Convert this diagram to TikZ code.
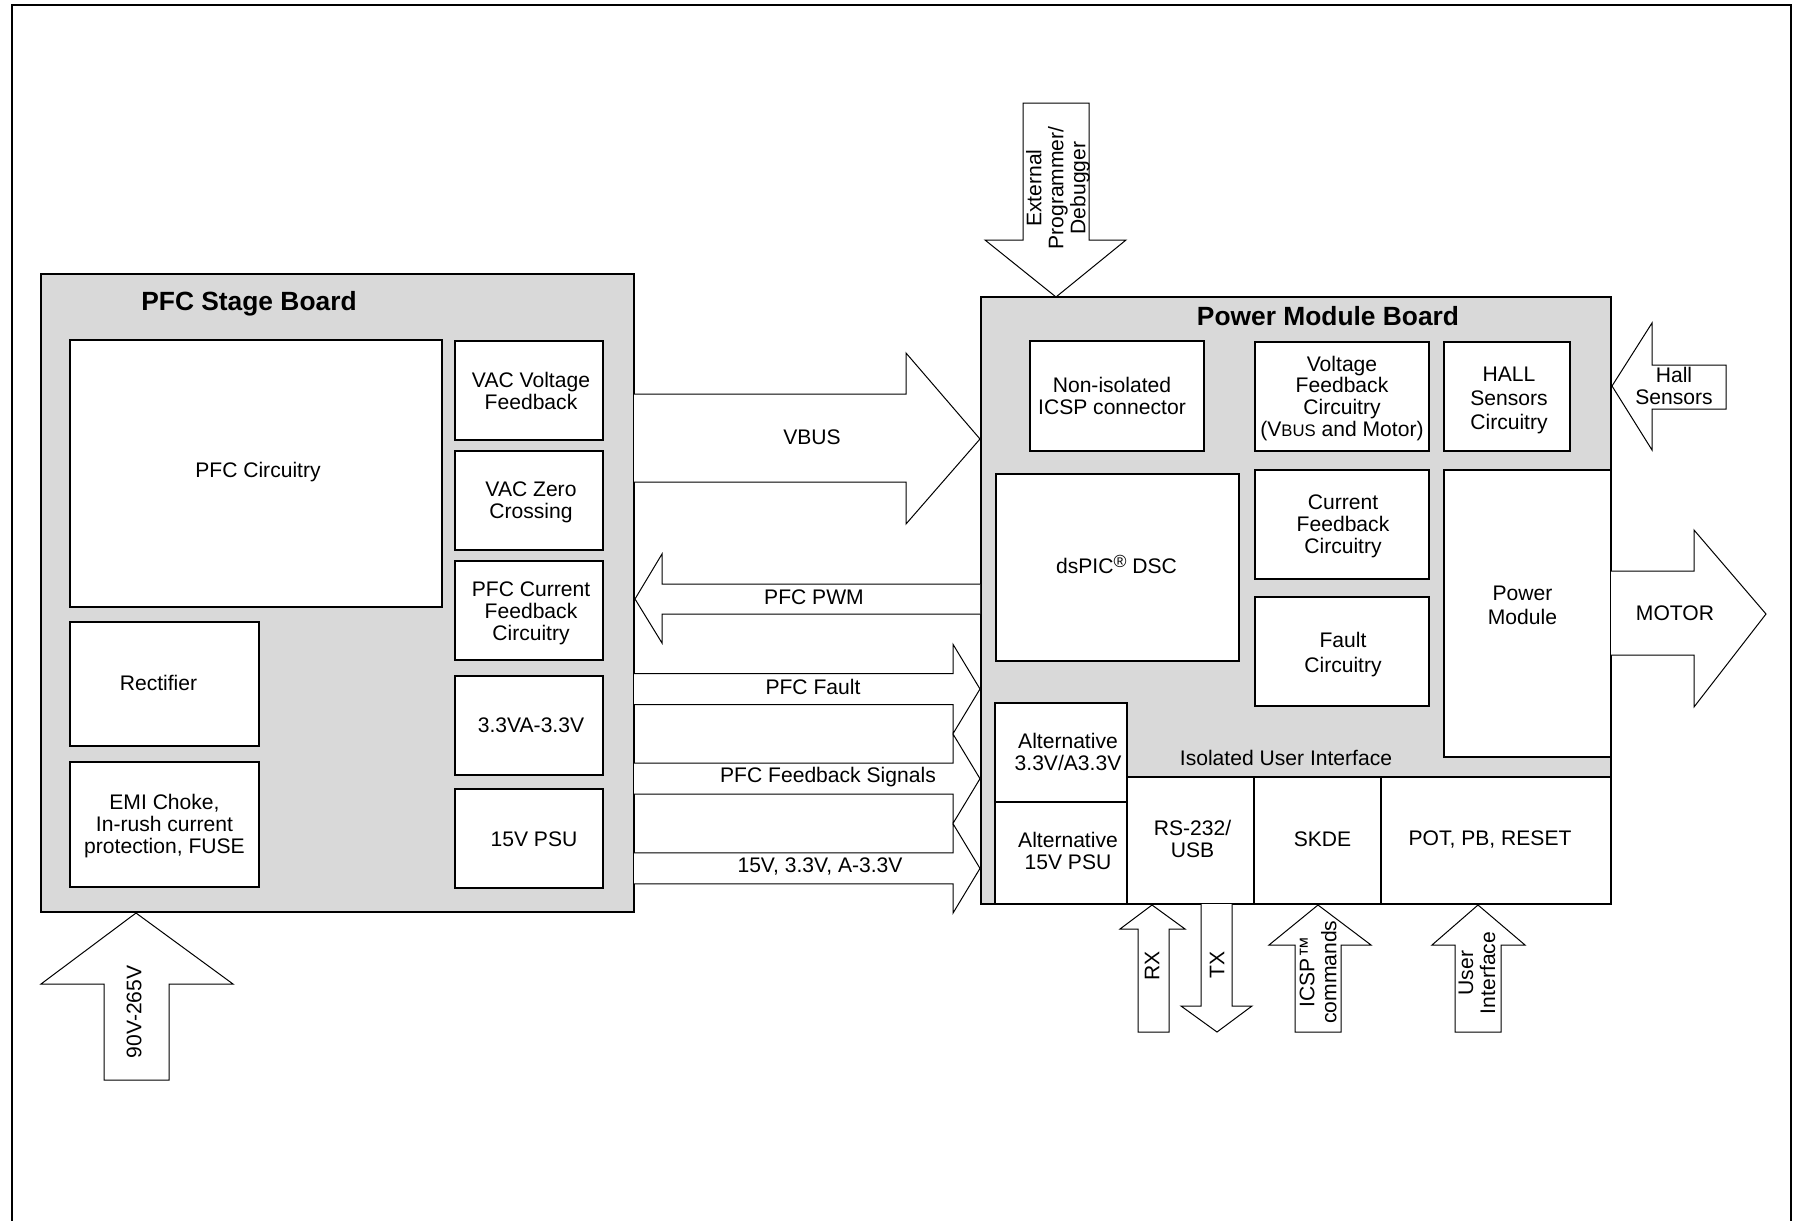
\documentclass[tikz,border=0pt]{standalone}
\usepackage{fontspec}
\setmainfont{Liberation Sans}
\definecolor{boardgray}{RGB}{217,217,217}
\usepackage{tikz}
\usetikzlibrary{fit,calc}

\begin{document}
\begin{tikzpicture}[x=0.2mm,y=-0.2mm,
      board/.style={draw=black,line width=0.3mm,fill=boardgray,inner sep=0pt},
      blk/.style={draw=black,line width=0.35mm,fill=white,inner sep=0pt},
      ttl/.style={font=\fontsize{15}{17}\selectfont\bfseries},
      lbl/.style={font=\fontsize{12}{12.5}\selectfont,align=center,inner sep=0pt},
      barrow/.style={draw=black,line width=0.2mm,fill=white,line join=miter}]

      \useasboundingbox (0,0) rectangle (1797,1221);
      \draw[line width=0.45mm] (11.7,1225) |- (1791,5) -- (1791,1225);

      % Boards
      \node[board,fit={(41,274) (634,912)}]  (pfc) {};
      \node[board,fit={(981,297) (1611,904)}] (pmb) {};
      \node[ttl] (pfctitle) at (249,304) {PFC Stage Board};
      \node[ttl] (pmbtitle) at (1328,316) {Power Module Board};

      % PFC stage blocks
      \node[blk,fit={(70,340) (442,607)}]  (pfccirc) {};
      \node[blk,fit={(70,622) (259,746)}]  (rect)    {};
      \node[blk,fit={(70,762) (259,887)}]  (emi)     {};
      \node[blk,fit={(455,341) (603,440)}] (vacv)    {};
      \node[blk,fit={(455,451) (603,550)}] (vacz)    {};
      \node[blk,fit={(455,561) (603,660)}] (pfccur)  {};
      \node[blk,fit={(455,676) (603,775)}] (psu33)   {};
      \node[blk,fit={(455,789) (603,888)}] (psu15)   {};
      \node[lbl] (pfccirct) at ($(pfccirc)+(2,-1)$) {PFC Circuitry};
      \node[lbl] (rectt)    at ($(rect)+(-6,-1)$)   {Rectifier};
      \node[lbl] (emit)     at ($(emi)+(0,2)$)      {EMI Choke,\\In-rush current\\protection, FUSE};
      \node[lbl] (vacvt)    at ($(vacv)+(2,0)$)     {VAC Voltage\\Feedback};
      \node[lbl] (vaczt)    at ($(vacz)+(2,2)$)     {VAC Zero\\Crossing};
      \node[lbl] (pfccurt)  at ($(pfccur)+(2,3)$)   {PFC Current\\Feedback\\Circuitry};
      \node[lbl] (psu33t)   at ($(psu33)+(2,0)$)    {3.3VA-3.3V};
      \node[lbl] (psu15t)   at ($(psu15)+(5,1)$)    {15V PSU};

      % Power module blocks
      \node[blk,fit={(1030,341) (1204,451)}] (icsp)   {};
      \node[blk,fit={(1255,342) (1429,451)}] (vfb)    {};
      \node[blk,fit={(1444,342) (1570,451)}] (hallc)  {};
      \node[blk,fit={(996,474) (1239,661)}]  (dspic)  {};
      \node[blk,fit={(1255,470) (1429,579)}] (curfb)  {};
      \node[blk,fit={(1255,597) (1429,706)}] (fault)  {};
      \node[blk,fit={(1444,470) (1611,757)}] (pwrmod) {};
      \node[blk,fit={(995,703) (1127,802)}]  (alt33)  {};
      \node[blk,fit={(995,802) (1127,904)}]  (alt15)  {};
      \node[blk,fit={(1127,777) (1254,904)}] (rs232)  {};
      \node[blk,fit={(1254,777) (1381,904)}] (skde)   {};
      \node[blk,fit={(1381,777) (1611,904)}] (pot)    {};
      \node[lbl] (icspt)   at ($(icsp)+(-5,0)$)   {Non-isolated\\ICSP connector};
      \node[lbl] (vfbt)    at ($(vfb)+(0,2)$)     {Voltage\\Feedback\\Circuitry\\(V{\fontsize{9.5}{10}\selectfont BUS} and Motor)};
      \node[lbl] (hallct)  at ($(hallc)+(2,4)$)   {HALL\\[1pt]Sensors\\[1pt]Circuitry};
      \node[lbl] (dspict)  at ($(dspic)+(-1,-3)$) {dsPIC\raisebox{3.6pt}{\fontsize{10}{10}\selectfont ®} DSC};
      \node[lbl] (curfbt)  at ($(curfb)+(1,2)$)   {Current\\Feedback\\Circuitry};
      \node[lbl] (faultt)  at ($(fault)+(1,3)$)   {Fault\\[1.3pt]Circuitry};
      \node[lbl] (pwrmodt) at ($(pwrmod)+(-5,-8)$) {Power\\[1.3pt]Module};
      \node[lbl] (alt33t)  at ($(alt33)+(7,-1)$)  {Alternative\\3.3V/A3.3V};
      \node[lbl] (alt15t)  at ($(alt15)+(7,-2)$)  {Alternative\\15V PSU};
      \node[lbl] (rs232t)  at ($(rs232)+(2,-2)$)  {RS-232/\\USB};
      \node[lbl] (skdet)   at ($(skde)+(5,-1)$)   {SKDE};
      \node[lbl] (pott)    at ($(pot)+(-6,-1)$)   {POT, PB, RESET};
      \node[lbl] (isolui) at (1286,758) {Isolated User Interface};

      % Arrows between the boards
      \draw[barrow] (634,394) -- (906,394) -- (906,353) -- (980,439) -- (906,524) -- (906,482) -- (634,482);
      \node[lbl] (vbus) at (812,437) {VBUS};
      \draw[barrow] (980,584) -- (662,584) -- (662,554) -- (635,599) -- (662,643) -- (662,614) -- (980,614);
      \node[lbl] (pwm) at (814,597) {PFC PWM};
      \foreach \y/\lx/\lab [count=\i] in {689/813/PFC Fault, 778.7/828/PFC Feedback Signals,
                                          868.4/820/{15V, 3.3V, A-3.3V}}{
        \draw[barrow] (634,\y-15.5) -- (953,\y-15.5) -- (953,\y-44.7) -- (980,\y)
                      -- (953,\y+44.7) -- (953,\y+15.5) -- (634,\y+15.5);
        \node[lbl] (sig\i) at (\lx,\y-2) {\lab};
      }

      % Outside connections
      \draw[barrow] (1023,103) -- (1089,103) -- (1089,240) -- (1126,240) -- (1056,297) -- (985,240) -- (1023,240) -- cycle;
      \node[lbl,rotate=90] (extprog) at (1058,188) {External\\Programmer/\\Debugger};
      \draw[barrow] (1726,365) -- (1652,365) -- (1652,323) -- (1612,386) -- (1652,450) -- (1652,409) -- (1726,409) -- cycle;
      \node[lbl] (hall) at (1674,386) {Hall\\Sensors};
      \draw[barrow] (1611,571) -- (1694,571) -- (1694,530) -- (1766,614) -- (1694,707) -- (1694,655) -- (1611,655);
      \node[lbl] (motor) at (1675,613) {MOTOR};
      \draw[barrow] (104,1080) -- (104,984) -- (41,984) -- (136,913) -- (233,984) -- (169,984) -- (169,1080) -- cycle;
      \node[lbl,rotate=90] (vin) at (134,1012) {90V-265V};

      % User interface connections
      \draw[barrow] (1138,1032) -- (1138,929) -- (1120,929) -- (1152,905) -- (1185,929) -- (1169,929) -- (1169,1032) -- cycle;
      \node[lbl,rotate=90] (rx) at (1152,966) {RX};
      \draw[barrow] (1201,904) -- (1201,1006) -- (1181,1006) -- (1217,1032) -- (1252,1006) -- (1232,1006) -- (1232,904);
      \node[lbl,rotate=90] (tx) at (1217,965) {TX};
      \draw[barrow] (1295,1032) -- (1295,945) -- (1269,945) -- (1318,905) -- (1371,945) -- (1341,945) -- (1341,1032) -- cycle;
      \node[lbl,rotate=90] (icspcmd) at (1318,972) {ICSP™\\commands};
      \draw[barrow] (1455,1032) -- (1455,945) -- (1432,945) -- (1478,905) -- (1525,945) -- (1501,945) -- (1501,1032) -- cycle;
      \node[lbl,rotate=90] (userif) at (1477,973) {User\\Interface};
    \end{tikzpicture}
\end{document}
